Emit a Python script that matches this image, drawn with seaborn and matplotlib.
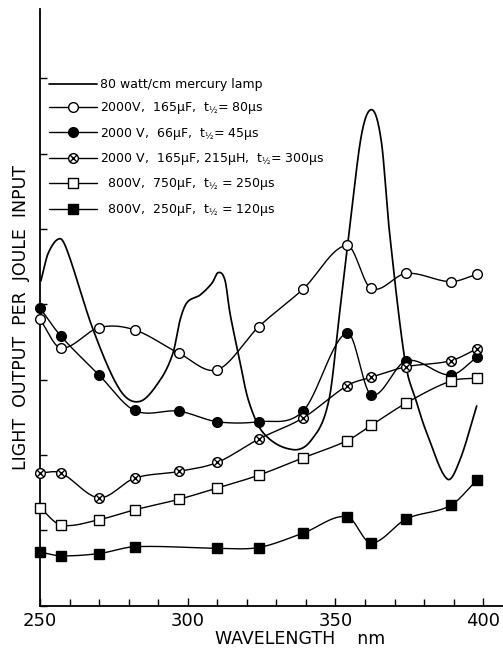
import numpy as np
import matplotlib
matplotlib.use("Agg")
import matplotlib.pyplot as plt
from matplotlib.path import Path
from matplotlib.lines import Line2D
from matplotlib.ticker import MultipleLocator, NullFormatter
import seaborn as sns

# ---- data (light output per joule input, arbitrary units) ----
wavelength = [250, 257, 270, 282, 297, 310, 324, 339, 354, 362, 374, 389, 398]
open_circle = [3.80, 3.42, 3.69, 3.66, 3.35, 3.13, 3.70, 4.20, 4.78, 4.21, 4.41, 4.30, 4.40]
filled_circle = [3.95, 3.58, 3.06, 2.59, 2.58, 2.44, 2.44, 2.58, 3.62, 2.80, 3.25, 3.06, 3.30]
crossed_circle = [1.76, 1.76, 1.43, 1.69, 1.78, 1.90, 2.21, 2.49, 2.92, 3.03, 3.17, 3.25, 3.41]
open_square = [1.30, 1.07, 1.14, 1.27, 1.41, 1.56, 1.73, 1.96, 2.19, 2.39, 2.69, 2.98, 3.02]

wavelength_fs = [250, 257, 270, 282, 310, 324, 339, 354, 362, 374, 389, 398]
filled_square = [0.71, 0.66, 0.69, 0.78, 0.76, 0.77, 0.96, 1.18, 0.83, 1.15, 1.33, 1.67]

# 80 W/cm mercury lamp spectrum
lamp_nm = [250.3, 252.8, 256.8, 259.5, 268.0, 277.1, 283.8, 290.6,
           295.0, 297.4, 299.7, 304.1, 308.2, 310.3, 312.6, 314.3, 317.1, 320.5, 325.6,
           335.5, 341.9, 347.8, 351.5, 354.9, 358.9, 362.5, 365.6, 368.2, 373.5,
           377.2, 380.9, 387.8, 392.1, 397.8]
lamp_out = [4.31, 4.68, 4.87, 4.68, 3.66, 2.86, 2.71, 2.99,
            3.35, 3.79, 4.02, 4.12, 4.28, 4.42, 4.32, 3.88, 3.35, 2.73, 2.29,
            2.07, 2.20, 2.73, 3.92, 5.05, 6.27, 6.58, 6.14, 4.99, 3.26,
            2.73, 2.29, 1.68, 1.93, 2.65]

legend_labels = [
    "80 watt/cm mercury lamp",
    "2000V,  165\u03bcF,  t$_{\u00bd}$= 80\u03bcs",
    "2000 V,  66\u03bcF,  t$_{\u00bd}$= 45\u03bcs",
    "2000 V,  165\u03bcF, 215\u03bcH,  t$_{\u00bd}$= 300\u03bcs",
    "  800V,  750\u03bcF,  t$_{\u00bd}$ = 250\u03bcs",
    "  800V,  250\u03bcF,  t$_{\u00bd}$ = 120\u03bcs",
]
x_ticks = [250, 300, 350, 400]


def smooth(x, y, n=30):
    """Cubic Hermite curve through the given points (Catmull-Rom tangents)."""
    x = np.asarray(x, float)
    y = np.asarray(y, float)
    m = np.empty_like(y)
    m[1:-1] = (y[2:] - y[:-2]) / (x[2:] - x[:-2])
    m[0] = (y[1] - y[0]) / (x[1] - x[0])
    m[-1] = (y[-1] - y[-2]) / (x[-1] - x[-2])
    xs, ys = [], []
    t = np.linspace(0, 1, n, endpoint=False)
    h00 = 2 * t**3 - 3 * t**2 + 1
    h10 = t**3 - 2 * t**2 + t
    h01 = -2 * t**3 + 3 * t**2
    h11 = t**3 - t**2
    for i in range(len(x) - 1):
        h = x[i + 1] - x[i]
        xs.append(x[i] + t * h)
        ys.append(h00 * y[i] + h10 * h * m[i] + h01 * y[i + 1] + h11 * h * m[i + 1])
    xs.append([x[-1]])
    ys.append([y[-1]])
    return np.concatenate(xs), np.concatenate(ys)


# circle with a diagonal cross (⊗)
_d = np.sqrt(0.5)
otimes = Path.make_compound_path(
    Path.unit_circle(),
    Path([[-_d, -_d], [_d, _d], [-_d, _d], [_d, -_d]],
         [Path.MOVETO, Path.LINETO, Path.MOVETO, Path.LINETO]),
)

sns.set_theme(style="ticks")
plt.rcParams["font.family"] = ["DejaVu Sans"]
plt.rcParams["text.color"] = "black"
plt.rcParams["axes.labelcolor"] = "black"
plt.rcParams["xtick.color"] = "black"
plt.rcParams["ytick.color"] = "black"

fig = plt.figure(figsize=(5.03, 6.48), dpi=100)
ax = fig.add_axes([40 / 503, 42.5 / 648, 463 / 503, 596.5 / 648])

lw = 1.0
ms = 7.0
series = [
    (wavelength, open_circle, dict(marker="o", mfc="white")),
    (wavelength, filled_circle, dict(marker="o", mfc="black")),
    (wavelength, crossed_circle, dict(marker=otimes, mfc="white")),
    (wavelength, open_square, dict(marker="s", mfc="white")),
    (wavelength_fs, filled_square, dict(marker="s", mfc="black")),
]

lx, ly = smooth(lamp_nm, lamp_out, n=40)
sns.lineplot(x=lx, y=ly, ax=ax, color="black", linewidth=1.25, sort=False,
             estimator=None, zorder=2)

handles = [Line2D([], [], color="black", linewidth=1.25)]
for xv, yv, st in series:
    sx, sy = smooth(xv, yv)
    sns.lineplot(x=sx, y=sy, ax=ax, color="black", linewidth=lw, sort=False,
                 estimator=None, zorder=2)
    ax.plot(xv, yv, linestyle="none", marker=st["marker"], markersize=ms,
            markerfacecolor=st["mfc"], markeredgecolor="black",
            markeredgewidth=1.0, zorder=3, clip_on=False)
    handles.append(Line2D([], [], color="black", linewidth=lw,
                          marker=st["marker"], markersize=ms,
                          markerfacecolor=st["mfc"], markeredgecolor="black",
                          markeredgewidth=1.0))

ax.set_xlim(250, 406.7)
ax.set_ylim(0, 7.92)
ax.set_xticks(x_ticks)
ax.xaxis.set_minor_locator(MultipleLocator(10))
ax.yaxis.set_major_locator(MultipleLocator(1))
ax.yaxis.set_major_formatter(NullFormatter())
ax.tick_params(axis="x", which="major", direction="in", length=6, width=1.0,
               pad=5, labelsize=13, colors="black")
ax.tick_params(axis="x", which="minor", direction="in", length=5, width=1.0)
ax.tick_params(axis="y", which="major", direction="in", length=5, width=1.0)

for side in ("top", "right"):
    ax.spines[side].set_visible(False)
for side in ("left", "bottom"):
    ax.spines[side].set_linewidth(1.3)
    ax.spines[side].set_color("black")

ax.set_xlabel("WAVELENGTH    nm", fontsize=12.5, ha="center", va="top")
ax.xaxis.set_label_coords(0.5616, -0.041)
ax.set_ylabel("LIGHT  OUTPUT  PER  JOULE  INPUT", fontsize=12.5)
ax.yaxis.set_label_coords(-0.022, 0.482)

ax.legend(handles, legend_labels, loc="upper left",
          bbox_to_anchor=(9 / 463, (605.5 - 78) / 596.5), frameon=False,
          fontsize=9, handlelength=3.8, handletextpad=0.3, labelspacing=0.75,
          borderpad=0, borderaxespad=0, numpoints=1)

fig.savefig("out.png", dpi=100, facecolor="white")
